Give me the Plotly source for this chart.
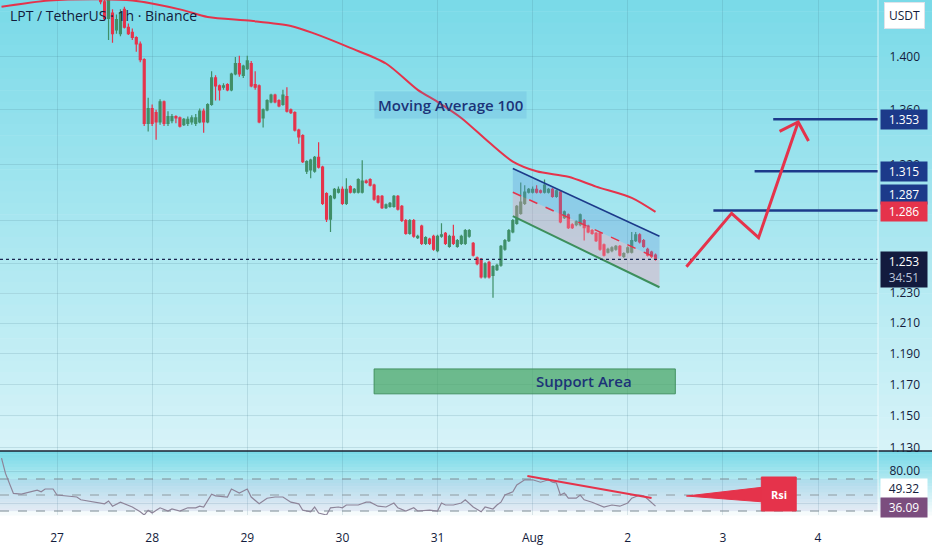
import numpy as np
import pandas as pd
import plotly.graph_objects as go
from plotly.subplots import make_subplots


# ------------------------------------------------------------------------------------------------
# data (LPT / USDT, 1h candles)

candle_start = '2023-07-27 11:00'

candle_open = [1.447, 1.443, 1.430, 1.434, 1.421, 1.418, 1.437, 1.423, 1.419, 1.415,
               1.410, 1.398, 1.350, 1.361, 1.358, 1.351, 1.366, 1.350, 1.352, 1.355,
               1.354, 1.349, 1.350, 1.351, 1.350, 1.351, 1.359, 1.351, 1.364, 1.384,
               1.378, 1.377, 1.379, 1.375, 1.387, 1.395, 1.386, 1.391, 1.395, 1.379,
               1.378, 1.354, 1.360, 1.366, 1.371, 1.367, 1.364, 1.370, 1.360, 1.358,
               1.345, 1.341, 1.315, 1.316, 1.315, 1.325, 1.318, 1.299, 1.281, 1.296,
               1.300, 1.302, 1.292, 1.304, 1.300, 1.300, 1.300, 1.308, 1.309, 1.305,
               1.297, 1.297, 1.289, 1.290, 1.290, 1.297, 1.290, 1.280, 1.271, 1.280,
               1.268, 1.276, 1.264, 1.267, 1.269, 1.259, 1.269, 1.271, 1.262, 1.269,
               1.262, 1.264, 1.264, 1.269, 1.264, 1.254, 1.253, 1.241, 1.251, 1.242,
               1.246, 1.249, 1.260, 1.266, 1.272, 1.278, 1.285, 1.292, 1.300, 1.300,
               1.302, 1.301, 1.300, 1.300, 1.302, 1.297, 1.300, 1.282, 1.284, 1.277,
               1.277, 1.277, 1.280, 1.276, 1.273, 1.271, 1.271, 1.263, 1.258, 1.259,
               1.260, 1.262, 1.255, 1.258, 1.258, 1.266, 1.270, 1.266, 1.260, 1.258,
               1.256]

candle_high = [1.451, 1.446, 1.448, 1.437, 1.433, 1.437, 1.439, 1.426, 1.422, 1.416,
               1.412, 1.399, 1.369, 1.364, 1.360, 1.368, 1.367, 1.359, 1.357, 1.356,
               1.355, 1.354, 1.355, 1.356, 1.357, 1.361, 1.361, 1.365, 1.389, 1.386,
               1.379, 1.380, 1.380, 1.388, 1.400, 1.401, 1.394, 1.401, 1.397, 1.389,
               1.379, 1.361, 1.368, 1.372, 1.372, 1.368, 1.375, 1.377, 1.361, 1.359,
               1.346, 1.342, 1.323, 1.324, 1.326, 1.336, 1.319, 1.300, 1.298, 1.303,
               1.304, 1.304, 1.310, 1.305, 1.303, 1.310, 1.323, 1.309, 1.310, 1.306,
               1.298, 1.298, 1.292, 1.293, 1.298, 1.298, 1.291, 1.281, 1.281, 1.281,
               1.270, 1.277, 1.269, 1.268, 1.270, 1.270, 1.278, 1.272, 1.270, 1.277,
               1.267, 1.270, 1.274, 1.274, 1.265, 1.255, 1.254, 1.251, 1.252, 1.249,
               1.250, 1.263, 1.267, 1.274, 1.281, 1.291, 1.307, 1.305, 1.303, 1.304,
               1.305, 1.302, 1.309, 1.303, 1.303, 1.302, 1.301, 1.287, 1.285, 1.278,
               1.280, 1.285, 1.281, 1.277, 1.274, 1.272, 1.272, 1.264, 1.261, 1.262,
               1.263, 1.263, 1.258, 1.262, 1.272, 1.272, 1.271, 1.267, 1.261, 1.259,
               1.257]

candle_low = [1.441, 1.428, 1.413, 1.411, 1.418, 1.416, 1.422, 1.417, 1.413, 1.404,
              1.396, 1.348, 1.344, 1.348, 1.338, 1.349, 1.348, 1.348, 1.350, 1.350,
              1.347, 1.348, 1.348, 1.349, 1.348, 1.350, 1.343, 1.350, 1.363, 1.367,
              1.367, 1.375, 1.374, 1.374, 1.386, 1.385, 1.384, 1.390, 1.377, 1.375,
              1.350, 1.347, 1.359, 1.365, 1.365, 1.362, 1.363, 1.358, 1.357, 1.344,
              1.335, 1.321, 1.313, 1.310, 1.314, 1.317, 1.291, 1.279, 1.272, 1.295,
              1.299, 1.291, 1.291, 1.299, 1.299, 1.299, 1.299, 1.306, 1.304, 1.294,
              1.292, 1.288, 1.288, 1.289, 1.289, 1.287, 1.279, 1.270, 1.270, 1.268,
              1.267, 1.263, 1.263, 1.263, 1.259, 1.258, 1.268, 1.263, 1.261, 1.263,
              1.261, 1.263, 1.263, 1.268, 1.255, 1.249, 1.240, 1.240, 1.240, 1.227,
              1.245, 1.248, 1.259, 1.265, 1.271, 1.277, 1.284, 1.291, 1.299, 1.299,
              1.299, 1.299, 1.299, 1.299, 1.296, 1.296, 1.278, 1.281, 1.274, 1.274,
              1.276, 1.276, 1.266, 1.271, 1.270, 1.265, 1.259, 1.255, 1.257, 1.258,
              1.259, 1.255, 1.254, 1.257, 1.257, 1.265, 1.264, 1.261, 1.255, 1.254,
              1.252]

candle_close = [1.443, 1.430, 1.444, 1.418, 1.429, 1.434, 1.423, 1.418, 1.415, 1.410,
                1.398, 1.350, 1.361, 1.350, 1.351, 1.366, 1.350, 1.355, 1.355, 1.354,
                1.348, 1.353, 1.353, 1.354, 1.354, 1.359, 1.351, 1.364, 1.384, 1.378,
                1.375, 1.378, 1.375, 1.387, 1.395, 1.387, 1.393, 1.397, 1.378, 1.377,
                1.351, 1.360, 1.367, 1.371, 1.366, 1.363, 1.371, 1.359, 1.358, 1.345,
                1.340, 1.322, 1.322, 1.323, 1.325, 1.318, 1.292, 1.281, 1.297, 1.302,
                1.302, 1.292, 1.302, 1.300, 1.302, 1.309, 1.308, 1.307, 1.305, 1.295,
                1.293, 1.289, 1.291, 1.292, 1.297, 1.288, 1.280, 1.271, 1.280, 1.269,
                1.269, 1.264, 1.268, 1.264, 1.260, 1.269, 1.270, 1.264, 1.269, 1.264,
                1.266, 1.269, 1.273, 1.273, 1.256, 1.250, 1.241, 1.250, 1.241, 1.248,
                1.249, 1.262, 1.266, 1.273, 1.280, 1.290, 1.293, 1.300, 1.302, 1.302,
                1.300, 1.300, 1.305, 1.302, 1.297, 1.301, 1.279, 1.286, 1.275, 1.275,
                1.279, 1.284, 1.275, 1.272, 1.271, 1.266, 1.260, 1.256, 1.260, 1.261,
                1.262, 1.256, 1.257, 1.261, 1.266, 1.270, 1.265, 1.262, 1.256, 1.255,
                1.253]

# moving average 100, hours after Jul 27 00:00
ma_hours = [-14, -2, 11, 19, 31, 38, 49, 59, 65, 74, 83, 91, 96, 102, 109, 115, 121, 129, 136, 145, 151]
ma_values = [1.439, 1.444, 1.445, 1.444, 1.437, 1.431, 1.428, 1.424, 1.418, 1.407, 1.395,
             1.375, 1.366, 1.354, 1.336, 1.322, 1.315, 1.311, 1.304, 1.296, 1.286]

# rsi, hours after Jul 27 00:00
rsi_hours = [-14, -13, -11, -9, -5, -4, -3, -1, 0, 2, 5, 6, 10, 12, 13, 14, 16, 19, 21, 22,
             23, 24, 26, 28, 29, 31, 33, 35, 36, 37, 39, 40, 43, 44, 46, 48, 49, 51, 53, 55,
             57, 59, 61, 62, 64, 65, 66, 68, 69, 71, 72, 73, 76, 78, 79, 81, 83, 85, 86, 88,
             90, 91, 94, 96, 97, 98, 100, 102, 103, 105, 107, 108, 110, 111, 112, 113, 115, 116, 118, 120,
             122, 124, 125, 126, 127, 128, 129, 131, 132, 133, 135, 137, 138, 140, 142, 144, 145, 147, 148, 149,
             150, 151]
rsi_values = [96, 77, 52, 51, 56, 54, 57.5, 57.5, 50, 49, 47.5, 44, 41, 39, 42.5, 36, 41, 35, 29, 25,
              31, 27.5, 34, 30, 32.5, 30, 34, 34, 36, 35, 51, 49, 47.5, 57.5, 52.5, 57.5, 47.5, 39, 46, 47.5,
              47.5, 41, 39, 31, 29, 35, 27.5, 25, 34, 35, 34, 37.5, 37.5, 41, 41, 36, 35, 40, 34, 30,
              34, 30, 31, 30, 40, 37.5, 37.5, 40, 44, 35, 29, 35, 32.5, 37.5, 41, 50, 54, 62.5, 69, 69,
              66, 69, 66, 65, 50, 52.5, 46, 46, 50, 44, 41, 37.5, 35, 37.5, 36, 40, 46, 50, 49, 45,
              41, 36.09]

# drawings
channel_time = ['2023-07-31 19:00', '2023-08-02 08:00']
channel_top = [1.317, 1.269]
channel_mid = [1.300, 1.253]
channel_low = [1.283, 1.234]

path_time = ['2023-08-02 14:48', '2023-08-03 02:12', '2023-08-03 09:00', '2023-08-03 19:00']
path_price = [1.248, 1.285, 1.268, 1.351]
arrow_time = ['2023-08-03 14:18', '2023-08-03 19:00', '2023-08-03 21:36']
arrow_price = [1.344, 1.351, 1.337]

target_price = [1.287, 1.315, 1.353]
target_start = ['2023-08-02 21:36', '2023-08-03 08:00', '2023-08-03 12:42']

support_time = ['2023-07-30 08:00', '2023-08-02 12:00']
support_price = [1.164, 1.180]

rsi_div_time = ['2023-07-31 22:40', '2023-08-02 06:00']
rsi_div_value = [73.75, 46.25]

last_price = 1.253
ma_last = 1.286
rsi_last = 36.09
rsi_ma_last = 49.32

day_ticks = ['2023-07-27', '2023-07-28', '2023-07-29', '2023-07-30', '2023-07-31',
             '2023-08-01', '2023-08-02', '2023-08-03', '2023-08-04']
day_labels = ['27', '28', '29', '30', '31', 'Aug', '2', '3', '4']
price_ticks = [1.13, 1.15, 1.17, 1.19, 1.21, 1.23, 1.25, 1.28, 1.32, 1.36, 1.40]
hidden_ticks = [1.25, 1.28]   # covered by the price labels

x_range = ['2023-07-26 09:37', '2023-08-04 15:08']

# ------------------------------------------------------------------------------------------------

GREEN = '#3f8f68'
RED = '#e5334b'
NAVY = '#1c3a8a'
INK = '#131c3c'
FONT = 'Open Sans'

base = pd.Timestamp('2023-07-27 00:00')
candle_time = pd.date_range(candle_start, periods=len(candle_open), freq='h')
ma_time = base + pd.to_timedelta(ma_hours, unit='h')
rsi_time = base + pd.to_timedelta(rsi_hours, unit='h')

X_END = 878 / 932
Y_SPLIT = 99 / 550
Y_BOTTOM = 35 / 550

fig = make_subplots(rows=2, cols=1, shared_xaxes=True, vertical_spacing=0)

# background gradients
def add_gradient(fig, y0, y1, top, bottom, n=40):
    for i in range(n):
        f = i / (n - 1)
        c = [int(round(top[k] + (bottom[k] - top[k]) * f)) for k in range(3)]
        fig.add_shape(type='rect', xref='paper', yref='paper', x0=0, x1=1,
                      y0=y1 - (y1 - y0) * (i + 1) / n - 0.001, y1=y1 - (y1 - y0) * i / n,
                      fillcolor='rgb(%d,%d,%d)' % tuple(c), line_width=0, layer='below')

add_gradient(fig, Y_SPLIT, 1, (122, 218, 232), (214, 243, 248))
add_gradient(fig, Y_BOTTOM, Y_SPLIT, (122, 218, 232), (246, 251, 252), n=20)

# support area
fig.add_trace(go.Scatter(x=[support_time[0], support_time[1], support_time[1], support_time[0], support_time[0]],
                         y=[support_price[0], support_price[0], support_price[1], support_price[1], support_price[0]],
                         mode='lines', fill='toself', fillcolor='rgba(72,165,100,0.72)',
                         line=dict(color='rgba(60,140,90,0.9)', width=1), hoverinfo='skip'), row=1, col=1)

# candles
fig.add_trace(go.Candlestick(x=candle_time, open=candle_open, high=candle_high,
                             low=candle_low, close=candle_close, whiskerwidth=0,
                             increasing=dict(line=dict(color=GREEN, width=1.2), fillcolor=GREEN),
                             decreasing=dict(line=dict(color=RED, width=1.2), fillcolor=RED)),
              row=1, col=1)

# moving average 100
fig.add_trace(go.Scatter(x=ma_time, y=ma_values, mode='lines',
                         line=dict(color=RED, width=2, shape='spline', smoothing=0.8)), row=1, col=1)

# descending channel
fig.add_trace(go.Scatter(x=channel_time, y=channel_top, mode='lines',
                         line=dict(color=NAVY, width=1.5)), row=1, col=1)
fig.add_trace(go.Scatter(x=channel_time, y=channel_mid, mode='lines', fill='tonexty',
                         fillcolor='rgba(90,150,215,0.30)',
                         line=dict(color=RED, width=1.5, dash='dash')), row=1, col=1)
fig.add_trace(go.Scatter(x=channel_time, y=channel_low, mode='lines', fill='tonexty',
                         fillcolor='rgba(235,150,175,0.35)',
                         line=dict(color='#3d8f5c', width=2)), row=1, col=1)

# last price dotted line
fig.add_trace(go.Scatter(x=x_range, y=[last_price, last_price], mode='lines',
                         line=dict(color='#1b2550', width=1.3, dash='dot')), row=1, col=1)

# target levels
for t0, p in zip(target_start, target_price):
    fig.add_trace(go.Scatter(x=[t0, x_range[1]], y=[p, p], mode='lines',
                             line=dict(color=NAVY, width=2.5)), row=1, col=1)

# projected path
fig.add_trace(go.Scatter(x=path_time, y=path_price, mode='lines',
                         line=dict(color=RED, width=3)), row=1, col=1)
fig.add_trace(go.Scatter(x=arrow_time, y=arrow_price, mode='lines',
                         line=dict(color=RED, width=3)), row=1, col=1)

# rsi band and levels
fig.add_trace(go.Scatter(x=x_range, y=[70, 70], mode='lines',
                         line=dict(color='#7f8c94', width=1, dash='dash')), row=2, col=1)
fig.add_trace(go.Scatter(x=x_range, y=[30, 30], mode='lines', fill='tonexty',
                         fillcolor='rgba(150,140,205,0.14)',
                         line=dict(color='#7f8c94', width=1, dash='dash')), row=2, col=1)
fig.add_trace(go.Scatter(x=x_range, y=[50, 50], mode='lines',
                         line=dict(color='#8f9aa0', width=1, dash='dash')), row=2, col=1)

fig.add_trace(go.Scatter(x=rsi_time, y=rsi_values, mode='lines',
                         line=dict(color='#8d8499', width=1.2)), row=2, col=1)

fig.add_trace(go.Scatter(x=rsi_div_time, y=rsi_div_value, mode='lines',
                         line=dict(color=RED, width=2)), row=2, col=1)

# rsi callout
fig.add_trace(go.Scatter(x=['2023-08-02 14:48', '2023-08-03 10:30', '2023-08-03 10:30', '2023-08-02 14:48'],
                         y=[48.75, 60, 41.25, 48.75], mode='lines', fill='toself',
                         fillcolor=RED, line=dict(color=RED, width=1)), row=2, col=1)
fig.add_trace(go.Scatter(x=['2023-08-03 09:42', '2023-08-03 18:30', '2023-08-03 18:30', '2023-08-03 09:42', '2023-08-03 09:42'],
                         y=[30, 30, 72.5, 72.5, 30], mode='lines', fill='toself',
                         fillcolor=RED, line=dict(color=RED, width=1)), row=2, col=1)

# ------------------------------------------------------------------------------------------------
# axes

grid = 'rgba(60,110,130,0.16)'

fig.update_xaxes(range=x_range, tickvals=day_ticks, ticktext=day_labels, showgrid=True,
                 gridcolor=grid, zeroline=False, showline=False, rangeslider_visible=False,
                 domain=[0, X_END], automargin=False)
fig.update_xaxes(showticklabels=False, row=1, col=1)
fig.update_xaxes(showticklabels=True, ticks='outside', ticklen=12, tickcolor='rgba(0,0,0,0)',
                 tickfont=dict(family=FONT, size=12, color=INK), row=2, col=1)

fig.update_yaxes(type='log', range=[np.log10(1.1281), np.log10(1.4444)], side='right',
                 tickvals=price_ticks,
                 ticktext=['' if v in hidden_ticks else '%.3f' % v for v in price_ticks],
                 tickfont=dict(family=FONT, size=12, color=INK), ticks='outside', ticklen=8,
                 tickcolor='rgba(0,0,0,0)', showgrid=True, gridcolor=grid, zeroline=False,
                 domain=[Y_SPLIT, 1], automargin=False, row=1, col=1)
fig.update_yaxes(range=[25, 105], side='right', tickvals=[40, 80], ticktext=['', '80.00'],
                 tickfont=dict(family=FONT, size=12, color=INK), ticks='outside', ticklen=8,
                 tickcolor='rgba(0,0,0,0)', showgrid=True, gridcolor=grid, zeroline=False,
                 domain=[Y_BOTTOM, Y_SPLIT], automargin=False, row=2, col=1)

# separators
fig.add_shape(type='line', xref='paper', yref='paper', x0=0, x1=1, y0=Y_SPLIT, y1=Y_SPLIT,
              line=dict(color='#1a2030', width=1.5))
fig.add_shape(type='line', xref='paper', yref='paper', x0=X_END, x1=X_END, y0=Y_BOTTOM, y1=1,
              line=dict(color='rgba(255,255,255,0.7)', width=1))

# ------------------------------------------------------------------------------------------------
# texts

annotations = []

annotations.append(dict(xref='paper', yref='paper', x=8 / 932, y=1 - 16 / 550, xanchor='left',
                        yanchor='middle', showarrow=False, text='LPT / TetherUS · 1h · Binance',
                        font=dict(family=FONT, size=14, color=INK, weight=500)))

annotations.append(dict(xref='paper', yref='paper', x=904 / 932, y=1 - 16 / 550, xanchor='center',
                        yanchor='middle', showarrow=False,
                        text='USDT', bgcolor='white', bordercolor='#dfe3ea', borderwidth=1,
                        borderpad=4, font=dict(family=FONT, size=12, color=INK)))

annotations.append(dict(x='2023-07-31 03:12', y=np.log10(1.3633), xref='x', yref='y',
                        showarrow=False, text='Moving Average 100', bgcolor='rgba(70,150,210,0.18)',
                        borderpad=3, font=dict(family=FONT, size=15, color='#1c3378', weight=600)))

annotations.append(dict(x='2023-08-01 13:00', y=np.log10(1.172), xref='x', yref='y',
                        showarrow=False, text='Support Area',
                        font=dict(family=FONT, size=15, color='#1c3378', weight=600)))

annotations.append(dict(x='2023-08-03 14:06', y=51.25, xref='x2', yref='y2', showarrow=False,
                        text='Rsi', font=dict(family=FONT, size=11, color='white', weight=700)))

def price_label(y, text, bg, fg='white', yref='y', shift=0, anchor='middle'):
    return dict(xref='paper', yref=yref, x=880 / 932, y=y, xanchor='left', yanchor=anchor,
                yshift=shift, showarrow=False, text=text, bgcolor=bg, width=44,
                borderpad=1, font=dict(family=FONT, size=12, color=fg))

annotations.append(price_label(np.log10(1.353), '1.353', NAVY))
annotations.append(price_label(np.log10(1.315), '1.315', NAVY))
annotations.append(price_label(np.log10(1.287), '1.287', NAVY, shift=16))
annotations.append(price_label(np.log10(ma_last), '%.3f' % ma_last, RED))
annotations.append(price_label(np.log10(last_price), '%.3f<br><span style="color:#b9c3d9">34:51</span>' % last_price,
                               '#131b3e', anchor='top', shift=8))
annotations.append(price_label(rsi_ma_last, '%.2f' % rsi_ma_last, 'white', fg=INK, yref='y2', shift=7))
annotations.append(price_label(rsi_last, '%.2f' % rsi_last, '#7b4d7e', yref='y2', shift=-1))

fig.update_layout(width=932, height=550, autosize=False, margin=dict(l=0, r=0, t=0, b=0),
                  paper_bgcolor='white', plot_bgcolor='rgba(0,0,0,0)', showlegend=False,
                  annotations=annotations, hovermode=False)

fig.write_html('out.html', config={'displayModeBar': False, 'responsive': False},
               post_script="document.body.style.margin='0';")
